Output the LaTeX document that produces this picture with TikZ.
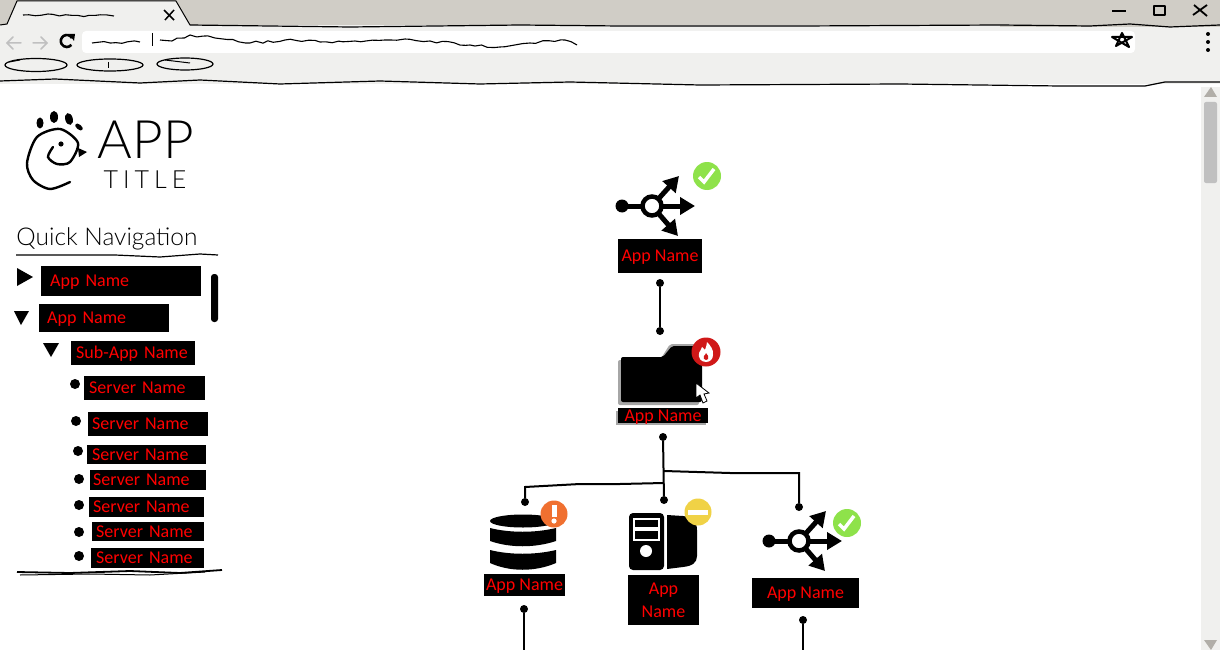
\documentclass[tikz,border=0pt]{standalone}
\usepackage{fontspec}
\usetikzlibrary{arrows.meta,positioning,decorations.pathmorphing}
\newfontfamily\labelfont{Carlito}
\newfontfamily\handfont{Lato Light}
\newfontfamily\spacedfont[LetterSpace=20]{Lato Light}
\definecolor{tabgrey}{HTML}{D0CDC6}
\definecolor{barwhite}{HTML}{F0F0EE}
\definecolor{scrollgrey}{HTML}{C0C0C0}
\definecolor{okgreen}{HTML}{8EE24A}
\definecolor{firered}{HTML}{D01818}
\definecolor{warnorange}{HTML}{F07030}
\definecolor{stopyellow}{HTML}{F0D246}
\tikzset{
    %Define standard arrow tip
    >={Triangle[width=17pt,length=15pt]},
    %Define style for black name boxes
    appbox/.style={
		rectangle,
		fill=black,
		text=red,
		inner sep=0pt,
		align=center,
		font=\labelfont\fontsize{18}{23}\selectfont},
	appline/.style={
		appbox,
		text height=12pt,
		text depth=1pt},
	navbox/.style={
		appbox,
		anchor=north west,
		align=left},
	pin/.style={
		circle,
		fill=black,
		inner sep=0pt,
		minimum size=8pt},
	wire/.style={
		draw,
		line width=2pt},
	sketch/.style={
		draw=black,
		line width=1pt,
		line join=round},
	squiggle/.style={
		sketch,
		line width=1.1pt,
		decorate,
		decoration={random steps,segment length=6pt,amplitude=1.3pt}},
	bullet/.style={
		circle,
		fill=black,
		inner sep=0pt,
		minimum size=10pt},
	%Icons
	fanicon/.pic={
		\fill (-30,0) circle (6.5);
		\draw[line width=5pt] (-30,0) -- (0,0);
		\draw[line width=5pt,->] (0,0) -- (43,0);
		\draw[line width=5pt,->] (0,0) -- (27,-30);
		\draw[line width=5pt,->] (0,0) -- (26,30);
		\draw[line width=4.5pt,fill=white] (0,0) circle (9.5);
	},
	okbadge/.pic={
		\fill[okgreen] (0,0) circle (14);
		\draw[white,line width=3.5pt] (-8,1) -- (-3,6) -- (7,-7);
	},
	firebadge/.pic={
		\fill[firered] (0,0) circle (14.5);
		\fill[white] (0,10) .. controls (-5,10) and (-8,6) .. (-7,1) .. controls (-6,-2) and (-4,-3) .. (-4,-5) .. controls (-2,-4) and (-2,-3) .. (-1,-2) .. controls (0,-5) and (1,-8) .. (1,-10) .. controls (4,-7) and (8,-2) .. (7,3) .. controls (7,7) and (4,10) .. (0,10) -- cycle;
		\fill[firered] (0,8) .. controls (-2,8) and (-3,6) .. (-2,4) .. controls (-1,3) and (0,2) .. (0,1) .. controls (2,3) and (3,5) .. (2,7) -- cycle;
	},
	warnbadge/.pic={
		\fill[warnorange] (0,0) circle (13.5);
		\fill[white] (-2.5,-9) rectangle (2.5,3);
		\fill[white] (0,7) circle (2.6);
	},
	stopbadge/.pic={
		\fill[stopyellow] (0,0) circle (13.5);
		\fill[white] (-10,-2.5) rectangle (10,2.5);
	}
}

\begin{document}
\begin{tikzpicture}[x=1pt,y=-1pt]
	\useasboundingbox (0,0) rectangle (1220,650);
	\fill[white] (0,0) rectangle (1220,650);
	\pgfmathsetseed{7}

	%browser frame
	\fill[barwhite] (0,25) rectangle (1220,84);
	\fill[tabgrey] (0,0) rectangle (1220,25);
	\fill[tabgrey] (1000,24) rectangle (1220,27);
	\fill[white,rounded corners=4pt] (82,31) rectangle (1135,53);
	\filldraw[sketch,fill=barwhite] (0,25) -- (7,24) -- (17,1) -- (176,1) -- (190,25);
	\draw[sketch,line width=1.2pt] (190,25) -- (350,27) -- (520,25) -- (620,26) -- (800,26) -- (1000,25) -- (1090,26) -- (1130,24) -- (1170,27) -- (1220,25);
	\draw[sketch,line width=1.2pt] (0,81) -- (55,79) -- (140,83) -- (200,80) -- (280,84) -- (380,81) -- (480,84) -- (570,82) -- (700,85) -- (900,84) -- (1060,86) -- (1145,86) -- (1165,82) -- (1220,82);
	\draw[squiggle] (23,15) -- (114,16);
	\draw[sketch,line width=1.5pt] (164,10) -- (174,20) (174,10) -- (165,20);
	\draw[squiggle] (92,43) -- (140,42);
	\draw[sketch] (152,33) -- (152,46);
	\draw[squiggle] (160,40) -- (172,41) -- (190,35) -- (215,38) -- (250,43) -- (285,40) -- (320,42) -- (355,41) -- (385,40) -- (405,39) -- (430,41) -- (470,45) -- (500,47) -- (530,43) -- (565,40) -- (577,45);
	\draw[scrollgrey,line width=1.5pt,line cap=round] (21,43) -- (7,43) (13,37) -- (7,43) -- (13,49);
	\draw[scrollgrey,line width=1.5pt,line cap=round] (33,43) -- (47,43) (41,37) -- (47,43) -- (41,49);
	\draw[line width=2.6pt] (72,38) arc (-30:-320:6);
	\fill (69,34) -- (75,34) -- (74,41) -- cycle;
	\draw[sketch,line width=1.2pt] (36,65) ellipse (31 and 6.5);
	\draw[sketch] (9,62) -- (20,60);
	\draw[sketch,line width=1.2pt] (110,65) ellipse (33 and 6);
	\draw[sketch] (108,62) -- (108,68);
	\draw[sketch,line width=1.2pt] (185,64) ellipse (28 and 6);
	\draw[sketch] (165,60) -- (190,63);
	\draw[sketch,line width=1.5pt] (1112,11) -- (1126,11);
	\draw[sketch,line width=1.5pt] (1154,6) rectangle (1165,15);
	\draw[sketch,line width=1.8pt] (1193,15) -- (1207,5) (1194,5) -- (1207,16);
	\draw[sketch,line width=2pt] (1116,46) -- (1122,33) -- (1129,47) -- (1112,37) -- (1132,37) -- cycle;
	\foreach \doty in {34,42,50}
		\fill (1208,\doty) circle (2);

	%scroll bar
	\fill[barwhite] (1201,87) rectangle (1220,650);
	\fill[tabgrey!85!black] (1204,97) -- (1211,87) -- (1217,97) -- cycle;
	\fill[tabgrey!85!black] (1204,640) -- (1211,650) -- (1217,640) -- cycle;
	\fill[scrollgrey,rounded corners=2pt] (1204,102) rectangle (1217,183);

	%logo and headings
	\draw[line width=2.4pt,line cap=round] plot[smooth] coordinates {(70,182) (50,189) (33,180) (27,163) (37,137) (60,129) (78,143) (70,162) (57,164) (48,157) (53,147)};
	\fill (61,144) circle (2.6);
	\fill (78,148) -- (87,152) -- (79,157) -- cycle;
	\fill (40,123) ellipse (3.5 and 5.5);
	\fill (54,117) ellipse (4 and 6);
	\fill[rotate around={15:(69,119)}] (69,119) ellipse (3.8 and 6);
	\fill[rotate around={50:(79,127)}] (79,127) ellipse (2.5 and 4.5);
	\node[font=\handfont\fontsize{53}{53}\selectfont,inner sep=0pt] (apptitle) at (146,140) {APP};
	\node[font=\spacedfont\fontsize{25}{25}\selectfont,inner sep=0pt] (subtitle) at (145,180) {TITLE};
	\node[font=\handfont\fontsize{24.500}{25}\selectfont,inner sep=0pt] (quicknav) at (107,239) {Quick Navigation};
	\draw[sketch,line width=1.2pt] (16,255) -- (115,255) -- (160,257) -- (200,254) -- (218,255);

	%navigation tree
	\node[appline,navbox,inner xsep=9pt,minimum height=30,text width=142pt] (appA) at (41,266) {App Name};
	\node[appline,navbox,inner xsep=8pt,minimum height=28,text width=114pt] (appB) at (39,304) {App Name};
	\node[appline,navbox,inner xsep=5pt,minimum height=24,text width=114pt] (subapp) at (71,341) {Sub-App Name};
	\foreach \navname/\navx/\navy/\navw/\navh/\navin in {srvA/84/376/121/24/5,srvB/88/412/120/24/4,srvC/87/445/119/19/5,srvD/90/470/116/20/3,srvE/89/497/115/20/4,srvF/92/522/112/19/4,srvG/91/548/113/20/5}
		\node[navbox,inner xsep=\navin pt,minimum height=\navh,text width=\navw pt - 2*\navin pt] (\navname) at (\navx,\navy) {Server Name};
	\fill (17,268) -- (33,277) -- (17,286) -- cycle;
	\fill (14,311) -- (29,311) -- (21,325) -- cycle;
	\fill (43,343) -- (59,343) -- (51,357) -- cycle;
	\foreach \navx/\navy in {75/384,76/421,78/451,79/479,79/505,79/532,79/556}
		\node[bullet] at (\navx,\navy) {};
	\fill[rounded corners=3pt] (211,274) rectangle (218,322);
	\draw[sketch,line width=1.8pt] (17,572) -- (70,573) -- (130,571) -- (180,573) -- (222,570);
	\draw[sketch,line width=1pt] (20,575) -- (90,574) -- (150,575) -- (205,572);

	%top router
	\pic at (652,206) {fanicon};
	\pic at (707,176) {okbadge};
	\node[appline,minimum width=84pt,minimum height=34pt] (router) at (660,256) {App Name};

	%folder
	\fill[black!35,rounded corners=2pt] (618,360) -- (660,360) -- (670,344) -- (699,344) -- (699,405) -- (618,405) -- cycle;
	\fill[rounded corners=2pt] (621,357) -- (663,357) -- (672,346) -- (702,346) -- (702,402) -- (621,402) -- cycle;
	\pic at (706,352) {firebadge};
	\filldraw[fill=white,draw=black,line width=.8pt] (696,383) -- (696,398) -- (700,395) -- (703,403) -- (707,401) -- (704,394) -- (709,393) -- cycle;
	\fill[black!35] (616,411) rectangle (706,425);
	\node[appline,minimum width=90pt,minimum height=15pt] (folder) at (663,415.500) {App Name};

	%database
	\fill (523,521) ellipse (33 and 6.5);
	\fill (490,528) .. controls (510,533) and (535,533) .. (556,528) -- (556,541) .. controls (535,548) and (510,548) .. (490,541) -- cycle;
	\fill (490,550) .. controls (510,555) and (535,555) .. (556,550) -- (556,563) .. controls (535,572) and (510,572) .. (490,563) -- cycle;
	\pic at (554,514) {warnbadge};
	\node[appline,minimum width=81pt,minimum height=22pt] (database) at (524.500,585) {App Name};

	%server
	\fill[rounded corners=4pt] (629,513) rectangle (664,570);
	\fill (667,515) -- (683,516) .. controls (692,517) and (697,522) .. (697,530) -- (697,556) .. controls (697,563) and (692,566) .. (683,567) -- (667,569) -- cycle;
	\draw[white,line width=1.2pt] (634,519) rectangle (659,528) (634,530) rectangle (659,540);
	\fill[white] (646,551) circle (6);
	\pic at (698,512) {stopbadge};
	\node[appbox,minimum width=71pt,minimum height=50pt] (server) at (663.500,600) {App\\Name};

	%lower router
	\pic at (799,541) {fanicon};
	\pic at (847,523) {okbadge};
	\node[appline,minimum width=107pt,minimum height=30pt] (routerB) at (805.500,593) {App Name};

	%connectors
	\node[pin] (routerOut) at (660,283) {};
	\node[pin] (folderIn) at (660,331) {};
	\node[pin] (folderOut) at (663,437) {};
	\node[pin] (databaseIn) at (525,502) {};
	\node[pin] (serverIn) at (664,500) {};
	\node[pin] (routerBIn) at (799,507) {};
	\node[pin] (databaseOut) at (524,609) {};
	\node[pin] (routerBOut) at (803,620) {};
	\coordinate (databaseEnd) at (524,650);
	\coordinate (routerBEnd) at (803,650);
	\coordinate (forkLeft) at (664,483);
	\coordinate (forkRight) at (664,471);
	\path[wire] (routerOut)--(folderIn);
	\path[wire] (folderOut)--(serverIn);
	\path[wire] (forkLeft)--(620,484)--(580,484)--(525,487)--(databaseIn);
	\path[wire] (forkRight)--(730,473)--(799,473)--(routerBIn);
	\path[wire] (databaseOut)--(databaseEnd);
	\path[wire] (routerBOut)--(routerBEnd);
\end{tikzpicture}
\end{document}
